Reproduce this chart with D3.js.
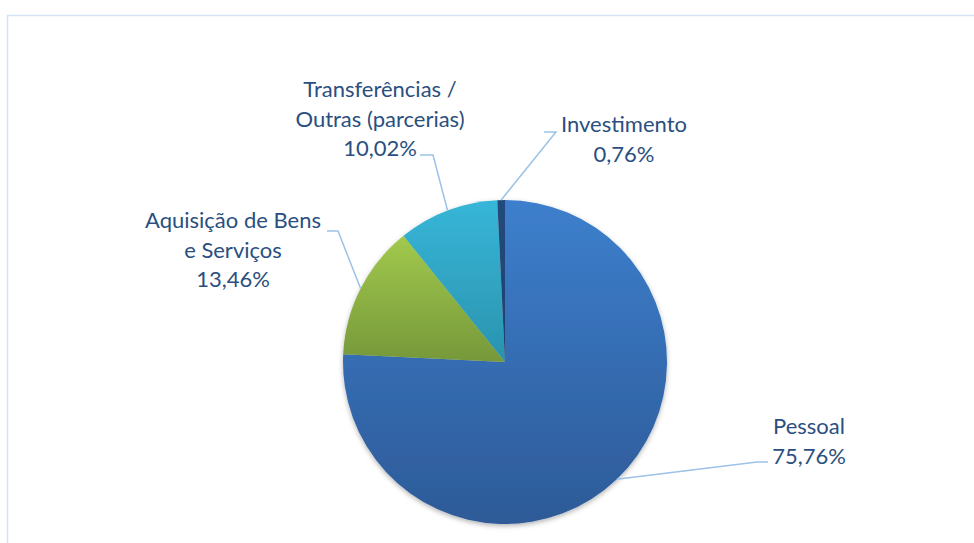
<!DOCTYPE html>
<meta charset="utf-8">
<style>
    body { margin: 0; background: #ffffff; }
    text {
        font-family: Lato, "Open Sans", sans-serif;
        font-size: 22px;
        fill: #2a4f80;
    }
    .leader {
        fill: none;
        stroke: #9cc2e8;
        stroke-width: 1.5;
    }
</style>
<body>
<div id="chart"></div>
<script src="https://d3js.org/d3.v7.min.js"></script>
<script>

    // data
    var categories = ["Pessoal", "Aquisição de Bens e Serviços", "Transferências / Outras (parcerias)", "Investimento"];
    var values = [75.76, 13.46, 10.02, 0.76];
    var labelLines = [
        ["Pessoal", "75,76%"],
        ["Aquisição de Bens", "e Serviços", "13,46%"],
        ["Transferências /", "Outras (parcerias)", "10,02%"],
        ["Investimento", "0,76%"]
    ];

    // colours (top, bottom of gradient)
    var colors = [
        ["#3d7fcd", "#2d5a97"],
        ["#a2c94d", "#76983a"],
        ["#37b6d8", "#2a93ae"],
        ["#22497c", "#1e4272"]
    ];

    // label layout: text centre x, first baseline, elbow point and end of the horizontal tick
    var layout = [
        {x: 809, y: 434, elbow: [757, 462], end: [768, 462]},
        {x: 233, y: 228, elbow: [338, 231], end: [327, 231]},
        {x: 380, y: 97,  elbow: [433, 155], end: [420, 155]},
        {x: 624, y: 132, elbow: [556, 132], end: [544, 132]}
    ];

    var width = 974, height = 543,
        cx = 505, cy = 362, radius = 162,
        lineHeight = 29.5;

    var svg = d3.select("#chart")
                .append("svg")
                .attr("width", width)
                .attr("height", height);

    // chart frame
    svg.append("rect")
       .attr("x", 7.5)
       .attr("y", 15.5)
       .attr("width", width)
       .attr("height", height)
       .attr("fill", "none")
       .attr("stroke", "#d5e3f4")
       .attr("stroke-width", 1.5);

    var defs = svg.append("defs");

    defs.append("filter")
        .attr("id", "shadow")
        .attr("x", "-10%").attr("y", "-10%")
        .attr("width", "120%").attr("height", "125%")
        .append("feDropShadow")
        .attr("dx", 0).attr("dy", 2)
        .attr("stdDeviation", 2.5)
        .attr("flood-color", "#000")
        .attr("flood-opacity", 0.3);

    colors.forEach(function (c, i) {
        var g = defs.append("linearGradient")
                    .attr("id", "grad" + i)
                    .attr("x1", 0).attr("y1", 0)
                    .attr("x2", 0).attr("y2", 1);
        g.append("stop").attr("offset", "0%").attr("stop-color", c[0]);
        g.append("stop").attr("offset", "100%").attr("stop-color", c[1]);
    });

    var pie = d3.pie().sort(null).value(d => d);
    var arcs = pie(values);

    var arc = d3.arc().innerRadius(0).outerRadius(radius);

    var g = svg.append("g")
               .attr("transform", "translate(" + cx + "," + cy + ")");

    g.append("g")
     .attr("filter", "url(#shadow)")
     .selectAll("path")
     .data(arcs)
     .enter()
     .append("path")
     .attr("d", arc)
     .attr("fill", (d, i) => "url(#grad" + i + ")");

    // leader lines: from the slice mid-angle on the rim to the elbow, then a short tick
    svg.append("g")
       .selectAll("polyline")
       .data(arcs)
       .enter()
       .append("polyline")
       .attr("class", "leader")
       .attr("points", function (d, i) {
           var a = (d.startAngle + d.endAngle) / 2;
           var p0 = [cx + radius * Math.sin(a), cy - radius * Math.cos(a)];
           return [p0, layout[i].elbow, layout[i].end].map(p => p.join(",")).join(" ");
       });

    // labels
    var labels = svg.append("g")
                    .selectAll("text")
                    .data(labelLines)
                    .enter()
                    .append("text")
                    .attr("text-anchor", "middle")
                    .attr("x", (d, i) => layout[i].x)
                    .attr("y", (d, i) => layout[i].y);

    labels.selectAll("tspan")
          .data((d, i) => d.map(t => ({t: t, i: i})))
          .enter()
          .append("tspan")
          .attr("x", d => layout[d.i].x)
          .attr("dy", (d, j) => j == 0 ? 0 : lineHeight)
          .text(d => d.t);

</script>
</body>
